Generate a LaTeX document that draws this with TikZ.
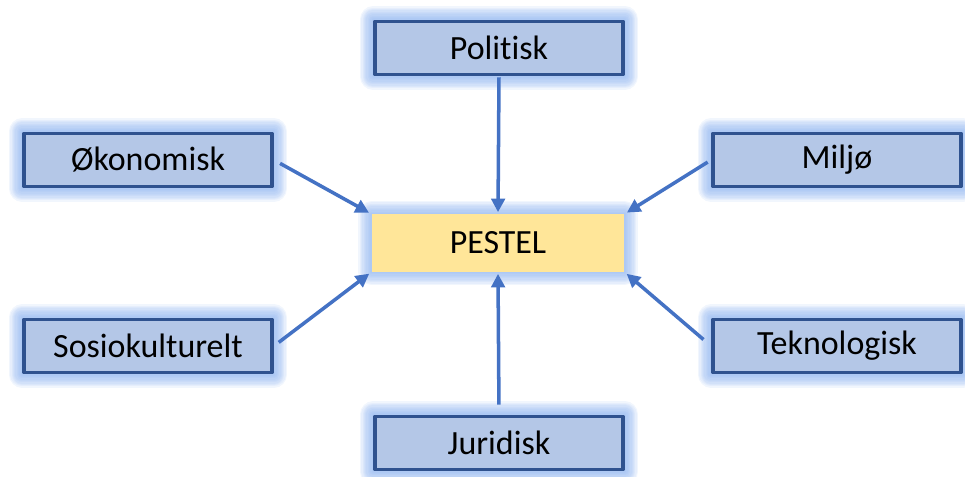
\documentclass[tikz,border=0pt]{standalone}
\usepackage{fontspec}
\setmainfont{Carlito}[Ligatures={NoCommon,NoContextual,NoRequired},Contextuals=NoAlternate]
\usetikzlibrary{arrows.meta,backgrounds}
\definecolor{boxfill}{HTML}{B4C7E7}
\definecolor{boxline}{HTML}{2F528F}
\definecolor{midfill}{HTML}{FFE699}
\definecolor{arrowc}{HTML}{4472C4}
\definecolor{glowc}{HTML}{8FB4F0}
\begin{document}
\begin{tikzpicture}[x=0.2mm,y=-0.2mm,>={Triangle[length=0.27cm,width=0.27cm]},
	font=\fontsize{19.3}{23}\selectfont, line join=round,
	factor/.style={draw=boxline,fill=boxfill,line width=2.2pt,minimum width=4.96cm,minimum height=1.06cm,inner sep=0pt},
	centre/.style={fill=midfill,minimum width=5.04cm,minimum height=1.14cm,inner sep=0pt},
	link/.style={->,draw=arrowc,line width=2pt}]
	\useasboundingbox (0,0) rectangle (965,477);
	\node[centre] (pestel) at (498,243) {PESTEL};
	\node[factor] (pol) at (499,48) {Politisk};
	\node[factor] (oko) at (148,160) {Økonomisk};
	\node[factor] (mil) at (837,160) {Miljø};
	\node[factor] (sos) at (148,346) {Sosiokulturelt};
	\node[factor] (tek) at (837,346) {Teknologisk};
	\node[factor] (jur) at (499,443) {Juridisk};
	\begin{scope}[on background layer]
		\foreach \n in {pestel,pol,oko,mil,sos,tek,jur}
			\foreach \w in {1.5,3,...,15}
				\draw[glowc,opacity=0.12,line width=\w pt,line join=round] (\n.south west) rectangle (\n.north east);
	\end{scope}
	\draw[link,shorten <=0.14cm,shorten >=0.06cm] (oko.east) -- (pestel.north west);
	\draw[link,shorten <=0.02cm,shorten >=0.04cm] (pol.south) -- (pestel.north);
	\draw[link,shorten <=0.08cm,shorten >=0.06cm] (mil.west) -- (pestel.north east);
	\draw[link,shorten <=0.12cm,shorten >=0.06cm] (sos.east) -- (pestel.south west);
	\draw[link,shorten <=0.2cm,shorten >=0.06cm] (tek.west) -- (pestel.south east);
	\draw[link,shorten <=0.2cm,shorten >=0.04cm] (jur.north) -- (pestel.south);
\end{tikzpicture}
\end{document}
